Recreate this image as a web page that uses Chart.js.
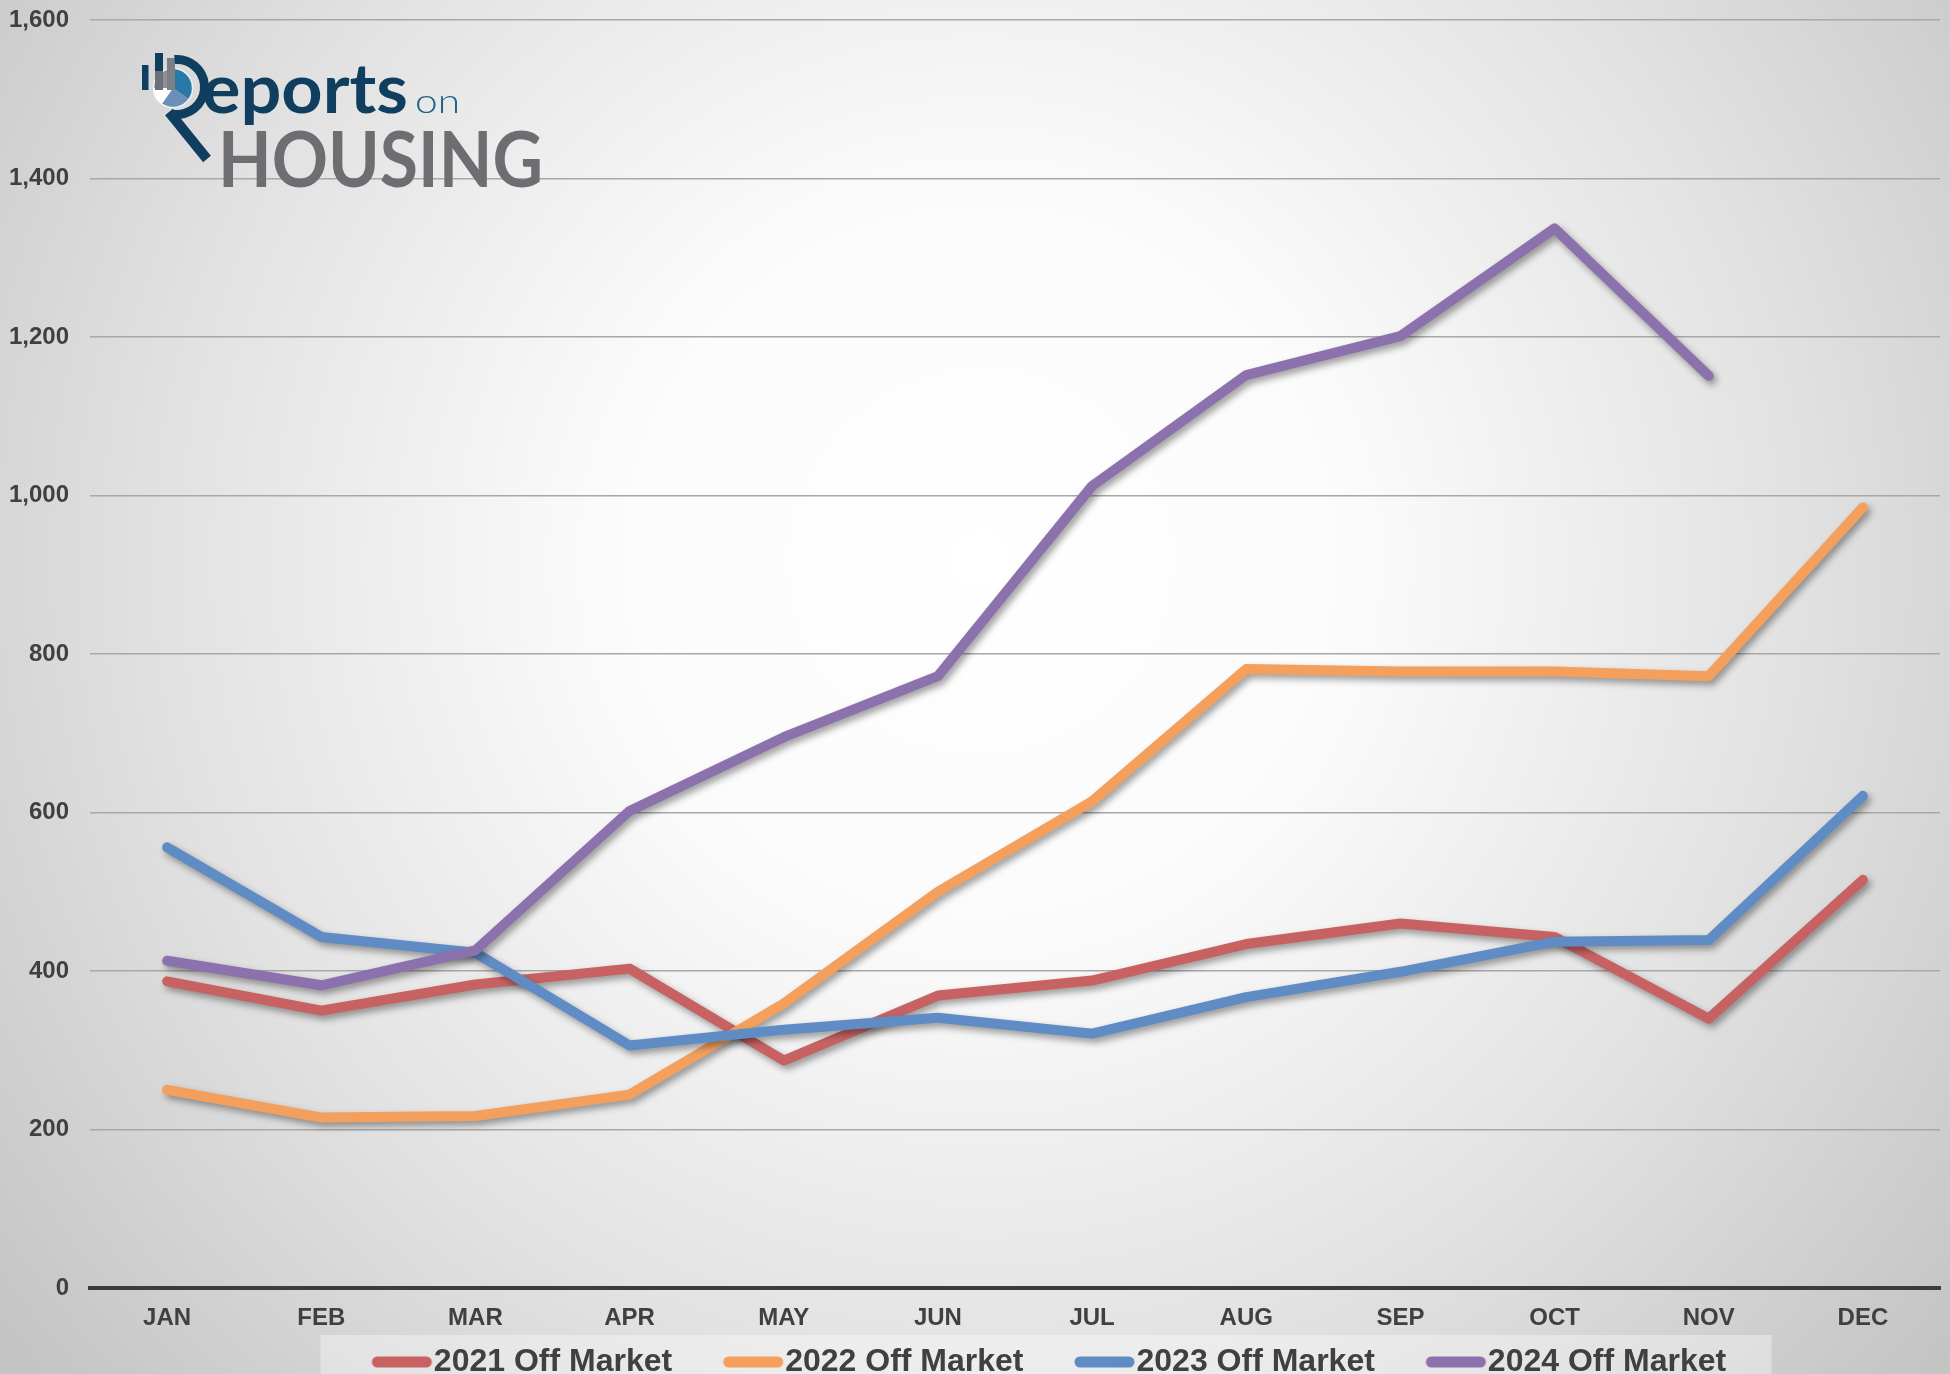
<!DOCTYPE html>
<html>
<head>
<meta charset="utf-8">
<script src="https://cdn.jsdelivr.net/npm/chart.js@4.4.0/dist/chart.umd.min.js"></script>
<style>
  html, body { margin: 0; padding: 0; background: #e6e6e6; }
  #wrap { width: 1950px; height: 1374px; position: relative; }
</style>
</head>
<body>
<div id="wrap"><canvas id="offMarketChart"></canvas></div>
<script>
const months = ["JAN", "FEB", "MAR", "APR", "MAY", "JUN", "JUL", "AUG", "SEP", "OCT", "NOV", "DEC"];
const seriesNames = ["2021 Off Market", "2022 Off Market", "2023 Off Market", "2024 Off Market"];
const offMarket2021 = [387, 350, 383, 403, 287, 369, 388, 434, 460, 443, 340, 515];
const offMarket2022 = [250, 215, 217, 244, 359, 500, 614, 781, 778, 778, 772, 985];
const offMarket2023 = [556, 443, 423, 306, 326, 341, 321, 367, 399, 437, 439, 621];
const offMarket2024 = [413, 382, 426, 602, 695, 772, 1012, 1152, 1201, 1337, 1151, null];
const lineColors = ["#c86262", "#f4a05c", "#5f8cc4", "#8c72ac"];

const allSeries = [offMarket2021, offMarket2022, offMarket2023, offMarket2024];

const datasets = allSeries.map((values, i) => ({
    label: seriesNames[i],
    data: values,
    borderColor: lineColors[i],
    backgroundColor: lineColors[i],
    borderWidth: 10,
    borderCapStyle: "round",
    borderJoinStyle: "round",
    pointRadius: 0,
    pointHoverRadius: 0,
    tension: 0,
    fill: false,
    spanGaps: false,
    order: allSeries.length - 1 - i, // later years drawn on top, like the original
}));

// legend swatch: a short rounded bar sitting right against the label text
function makeSwatch(color) {
    const c = document.createElement("canvas");
    c.width = 120;
    c.height = 14;
    const g = c.getContext("2d");
    g.strokeStyle = color;
    g.lineWidth = 11;
    g.lineCap = "round";
    g.beginPath();
    g.moveTo(63, 7);
    g.lineTo(112, 7);
    g.stroke();
    return c;
}
const swatches = lineColors.map(makeSwatch);

// soft radial backdrop + pale band behind the legend
const backdrop = {
    id: "backdrop",
    beforeDraw(chart) {
        const { ctx, width, height } = chart;
        ctx.save();
        const g = ctx.createRadialGradient(980, 560, 0, 980, 560, 1250);
        g.addColorStop(0, "#ffffff");
        g.addColorStop(0.3, "#fbfbfb");
        g.addColorStop(0.65, "#e2e2e2");
        g.addColorStop(1, "#c4c4c4");
        ctx.fillStyle = g;
        ctx.fillRect(0, 0, width, height);

        const lg = chart.legend;
        const cx = (lg.left + lg.right) / 2 + 20;
        ctx.fillStyle = "rgba(255,255,255,0.35)";
        ctx.fillRect(cx - 728, lg.top - 1, 1451, height);
        ctx.restore();
    },
};

// nudge the legend to sit where the original has it
const legendShift = {
    id: "legendShift",
    afterLayout(chart) {
        chart.legend.left += 54;
        chart.legend.right += 54;
    },
};

// drop shadow under each line
const lineShadow = {
    id: "lineShadow",
    beforeDatasetDraw(chart) {
        const ctx = chart.ctx;
        ctx.save();
        ctx.shadowColor = "rgba(0,0,0,0.38)";
        ctx.shadowBlur = 7;
        ctx.shadowOffsetX = 3;
        ctx.shadowOffsetY = 4;
    },
    afterDatasetDraw(chart) {
        chart.ctx.restore();
    },
};

function fitText(ctx, text, x, y, width) {
    const w = ctx.measureText(text).width;
    ctx.save();
    ctx.translate(x, y);
    ctx.scale(width / w, 1);
    ctx.fillText(text, 0, 0);
    ctx.restore();
}

// Reports on Housing logo
const logo = {
    id: "logo",
    beforeDatasetsDraw(chart) {
        const ctx = chart.ctx;
        const navy = "#0f3e5e";
        const rad = (d) => (d * Math.PI) / 180;
        ctx.save();

        // pie
        const px = 173, py = 88, pr = 19.5;
        const wedge = (a0, a1, color) => {
            ctx.beginPath();
            ctx.moveTo(px, py);
            ctx.arc(px, py, pr, rad(a0), rad(a1));
            ctx.closePath();
            ctx.fillStyle = color;
            ctx.fill();
        };
        wedge(-90, 35, "#2a78a8");
        wedge(35, 125, "#6a8fb8");
        wedge(125, 180, "#ffffff");
        wedge(180, 270, "#8d9196");
        ctx.strokeStyle = "rgba(255,255,255,0.8)";
        ctx.lineWidth = 1.5;
        ctx.beginPath();
        ctx.arc(px, py, pr, 0, Math.PI * 2);
        ctx.stroke();

        // bars
        ctx.fillStyle = navy;
        ctx.fillRect(142, 65, 6.5, 25);
        ctx.fillRect(155, 53, 8, 18);
        ctx.fillStyle = "#6c7177";
        ctx.fillRect(155, 71, 8, 19);
        ctx.fillStyle = "#7b8086";
        ctx.fillRect(167, 58, 8, 32);

        // bowl of the R
        ctx.strokeStyle = navy;
        ctx.lineWidth = 9;
        ctx.beginPath();
        ctx.arc(177, 87, 27.5, rad(-95), rad(100));
        ctx.stroke();

        // magnifier handle / leg
        ctx.lineWidth = 10;
        ctx.beginPath();
        ctx.moveTo(169, 112);
        ctx.lineTo(207, 159);
        ctx.stroke();

        // words
        ctx.textBaseline = "alphabetic";
        ctx.fillStyle = navy;
        ctx.font = "bold 68px Lato";
        fitText(ctx, "eports", 202, 113, 206);
        ctx.fillStyle = "#1f5f87";
        ctx.font = "300 34px Lato";
        fitText(ctx, "on", 415, 113, 45);
        ctx.fillStyle = "#6d6e71";
        ctx.font = "bold 77px Lato";
        fitText(ctx, "HOUSING", 218, 187, 325);
        ctx.restore();
    },
};

const tickFont = { family: "'Liberation Sans', Arial, sans-serif", weight: "bold", size: 24 };

new Chart(document.getElementById("offMarketChart"), {
    type: "line",
    data: { labels: months, datasets: datasets },
    options: {
        responsive: true,
        maintainAspectRatio: false,
        animation: false,
        layout: { padding: { left: 9, right: 10, top: 20, bottom: -14 } },
        plugins: {
            legend: {
                position: "bottom",
                labels: {
                    usePointStyle: true,
                    pointStyleWidth: 87,
                    padding: 10,
                    color: "#404040",
                    font: { family: "'Liberation Sans', Arial, sans-serif", weight: "bold", size: 32 },
                    sort: (a, b) => a.datasetIndex - b.datasetIndex,
                    generateLabels(chart) {
                        const items = Chart.defaults.plugins.legend.labels.generateLabels(chart);
                        items.forEach((it) => {
                            it.pointStyle = swatches[it.datasetIndex];
                        });
                        return items;
                    },
                },
            },
            tooltip: { enabled: false },
        },
        scales: {
            x: {
                offset: true,
                grid: { display: false, drawTicks: false },
                border: { display: true, color: "#3c3c3c", width: 4 },
                ticks: { color: "#404040", font: tickFont, padding: 16, maxRotation: 0 },
                afterFit(scale) {
                    scale.height = 48;
                },
            },
            y: {
                min: 0,
                max: 1600,
                grid: {
                    color: "#a8a8a8",
                    lineWidth: 1.5,
                    drawTicks: true,
                    tickLength: 21,
                    tickColor: "rgba(0,0,0,0)",
                },
                border: { display: false },
                ticks: {
                    stepSize: 200,
                    color: "#404040",
                    font: tickFont,
                    padding: 0,
                    callback: (v) => v.toLocaleString("en-US"),
                },
                afterFit(scale) {
                    scale.width = 81;
                },
            },
        },
    },
    plugins: [backdrop, legendShift, lineShadow, logo],
});
</script>
</body>
</html>
